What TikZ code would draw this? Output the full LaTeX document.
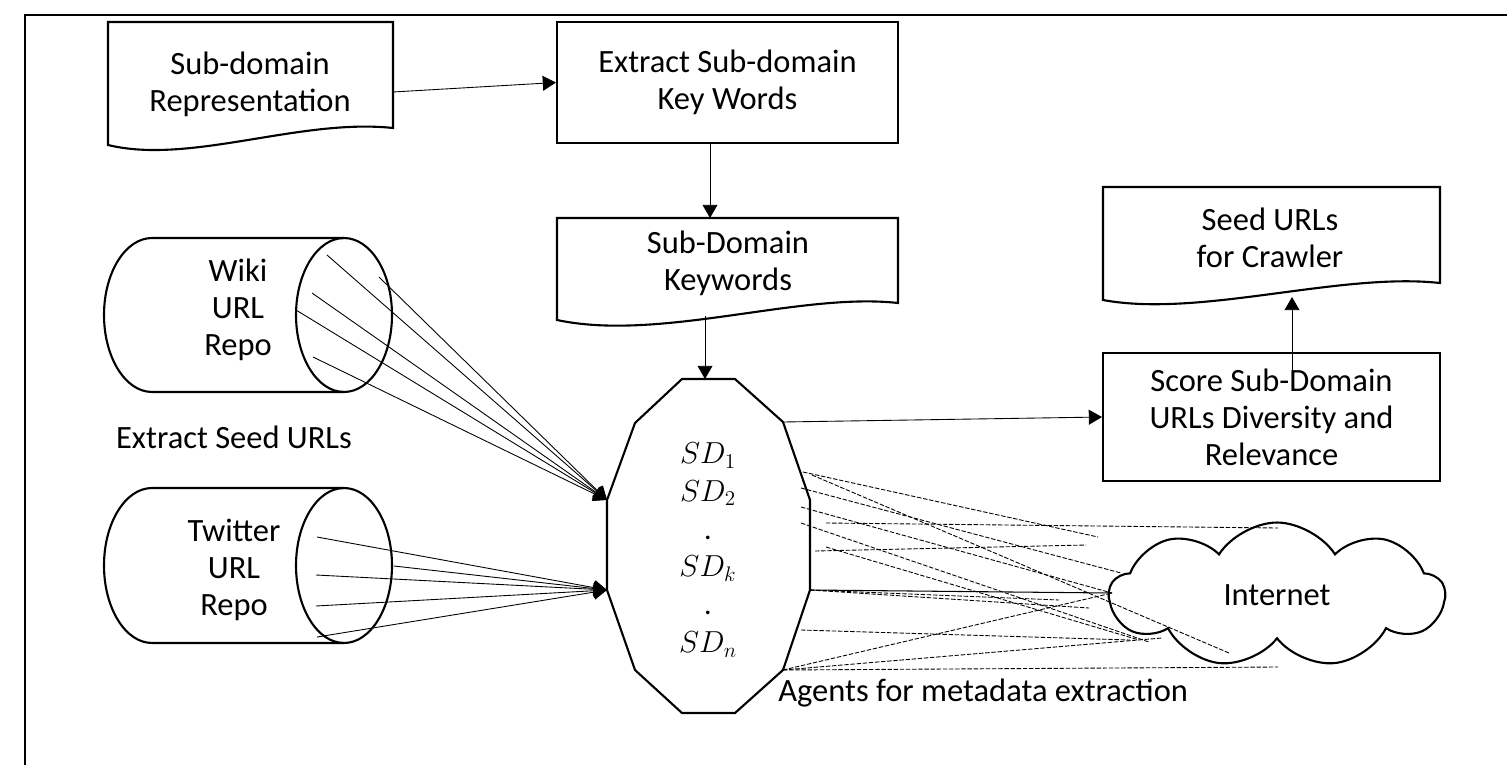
\documentclass[tikz,border=0pt]{standalone}
\usepackage{fontspec}
\setmainfont{Carlito}
\usetikzlibrary{arrows.meta,shapes.symbols}

\begin{document}
\begin{tikzpicture}[x=0.02cm,y=-0.02cm,
    font=\fontsize{18.5}{21}\selectfont,
    outline/.style={draw,line width=1.2pt},
    box/.style={outline,rectangle,align=center,inner sep=0pt},
    label/.style={align=center,inner sep=0pt},
    arr/.style={line width=0.5pt,-{Triangle[length=7.5pt,width=8.5pt]}},
    feed/.style={line width=0.6pt},
    agent/.style={line width=0.5pt,dash pattern=on 2.5pt off 1pt}]

    \path[use as bounding box,clip] (0,0) rectangle (1507,764);
    \draw[line width=1.2pt] (25,15) rectangle (1540,800);

    % 
    \draw[outline] (108,22) -- (393,22) -- (393,128) .. controls (300,118) and (190,165) .. (108,145) -- cycle;
    \node[label] (subrep) at (250,84) {Sub-domain\\Representation};
    \coordinate (subrep-e) at (393,92);

    \node[box,minimum width=6.82cm,minimum height=2.42cm] (extract) at (727.5,82.5) {Extract Sub-domain\\Key Words};

    \draw[outline] (557,218) -- (898,218) -- (898,303) .. controls (800,292) and (660,342) .. (557,320) -- cycle;
    \node[label] (keywords) at (728,263) {Sub-Domain\\Keywords};
    \coordinate (kw-n) at (710,218);
    \coordinate (kw-s) at (705,316);

    % 
    \draw[outline] (344,238) -- (152,238) arc[start angle=90,end angle=270,x radius=0.96cm,y radius=1.54cm] -- (344,392);
    \draw[outline] (344,315) ellipse[x radius=0.96cm,y radius=1.54cm];
    \node[label] (wiki) at (238,310) {Wiki\\URL\\Repo};

    \draw[outline] (344,488) -- (152,488) arc[start angle=90,end angle=270,x radius=0.96cm,y radius=1.55cm] -- (344,643);
    \draw[outline] (344,565.5) ellipse[x radius=0.96cm,y radius=1.55cm];
    \node[label] (twitter) at (234,570) {Twitter\\URL\\Repo};

    \node[label] (seedlabel) at (234,437) {Extract Seed URLs};

    % 
    \coordinate (o1) at (682,379);  \coordinate (o2) at (735,379);
    \coordinate (o3) at (783,422);  \coordinate (o4) at (810,500);
    \coordinate (o5) at (810,590);  \coordinate (o6) at (783,670);
    \coordinate (o7) at (735,713);  \coordinate (o8) at (682,713);
    \coordinate (o9) at (635,670);  \coordinate (o10) at (607,590);
    \coordinate (o11) at (607,500); \coordinate (o12) at (635,423);
    \coordinate (oct-n) at (705,379);
    \draw[outline] (o1) -- (o2) -- (o3) -- (o4) -- (o5) -- (o6) -- (o7) -- (o8) -- (o9) -- (o10) -- (o11) -- (o12) -- cycle;
    \node[label,font=\fontsize{17}{21.5}\selectfont] (sd) at (708,550) {$SD_1$\\$SD_2$\\.\\$SD_k$\\.\\$SD_n$};
    \node[label,anchor=west] (agents) at (778,693) {Agents for metadata extraction};

    % 
    \node[box,minimum width=6.74cm,minimum height=2.56cm] (score) at (1271.5,417) {Score Sub-Domain\\URLs Diversity and\\Relevance};
    \coordinate (score-in) at (1292,373);

    \draw[outline] (1103,187) -- (1440,187) -- (1440,283) .. controls (1340,272) and (1200,318) .. (1103,300) -- cycle;
    \node[label] (seed) at (1270,238) {Seed URLs\\for Crawler};
    \coordinate (seed-s) at (1292,297);

    \node[cloud,draw,line width=1.2pt,cloud puffs=9,cloud puff arc=115,cloud ignores aspect,
          minimum width=6.7cm,minimum height=2.9cm,inner sep=0pt] (internet) at (1277,595) {Internet};

    % Flow
    \draw[arr] (subrep-e) -- (extract.west);
    \draw[arr] (extract.south -| kw-n) -- (kw-n);
    \draw[arr] (kw-s) -- (oct-n);
    \draw[arr] (o3) -- (score.west);
    \draw[arr] (score-in) -- (seed-s);

    % Seed URLs from repos
    \coordinate (w1) at (327,255); \coordinate (w2) at (379,277);
    \coordinate (w3) at (312,293); \coordinate (w4) at (296,310);
    \coordinate (w5) at (313,357);
    \foreach \w in {w1,w2,w3,w4,w5}
        \draw[arr] (\w) -- (o11);
    \coordinate (t1) at (317,537); \coordinate (t2) at (394,566);
    \coordinate (t3) at (316,575); \coordinate (t4) at (316,606);
    \coordinate (t5) at (317,637);
    \foreach \t in {t1,t2,t3,t4,t5}
        \draw[arr] (\t) -- (o10);

    % Agents
    \coordinate (ag1) at (803,472); \coordinate (ag2) at (812,475);
    \coordinate (ag3) at (801,488); \coordinate (ag4) at (801,507);
    \coordinate (ag5) at (801,523); \coordinate (ag6) at (826,523);
    \coordinate (ag7) at (815,551); \coordinate (ag8) at (826,547);
    \coordinate (ag9) at (801,630);
    \coordinate (n1) at (1098,537);  \coordinate (n2) at (1229,653);
    \coordinate (n3) at (1121,573);  \coordinate (n4) at (1112,593);
    \coordinate (n5) at (1149,642);  \coordinate (n6) at (1278,528);
    \coordinate (n7) at (1086,545);  \coordinate (n8) at (1139,640);
    \coordinate (n9) at (1059,600);  \coordinate (n10) at (1089,608);
    \coordinate (n11) at (1130,640); \coordinate (n12) at (1278,667);
    \coordinate (n13) at (1162,638);
    \draw[agent] (ag1) -- (n1);
    \draw[agent] (ag2) -- (n2);
    \draw[agent] (ag3) -- (n3);
    \draw[agent] (ag4) -- (n4);
    \draw[agent] (ag5) -- (n5);
    \draw[agent] (ag6) -- (n6);
    \draw[agent] (ag7) -- (n7);
    \draw[agent] (ag8) -- (n8);
    \draw[feed] (o5) -- (n4);
    \draw[agent] (o5) -- (n9);
    \draw[agent] (o5) -- (n10);
    \draw[agent] (ag9) -- (n11);
    \draw[agent] (o6) -- (n4);
    \draw[agent] (o6) -- (n12);
    \draw[agent] (o6) -- (n13);

\end{tikzpicture}
\end{document}
